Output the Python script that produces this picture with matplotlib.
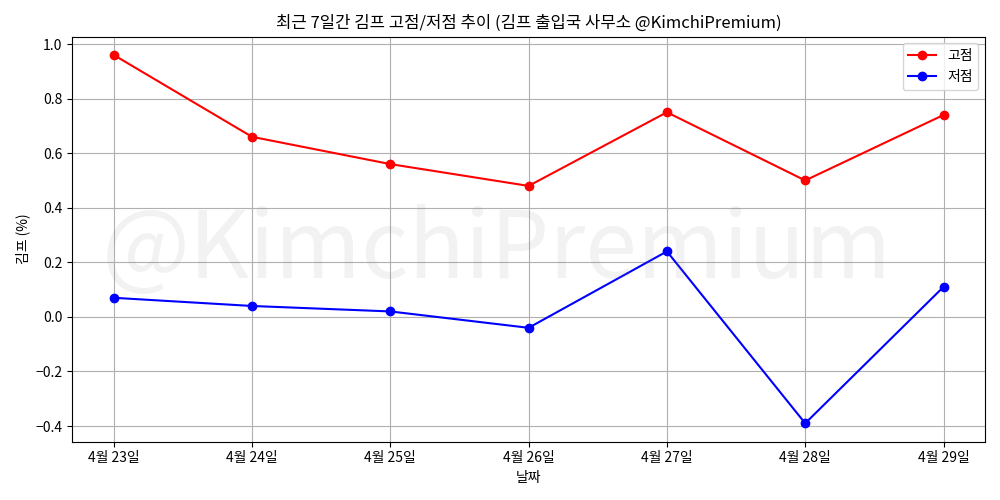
import matplotlib
matplotlib.use("Agg")
import matplotlib.pyplot as plt

plt.rcParams["font.family"] = "Noto Sans CJK KR"

dates = ["4월 23일", "4월 24일", "4월 25일", "4월 26일", "4월 27일", "4월 28일", "4월 29일"]
high = [0.96, 0.66, 0.56, 0.48, 0.75, 0.50, 0.74]
low = [0.07, 0.04, 0.02, -0.04, 0.24, -0.39, 0.11]

fig, ax = plt.subplots(figsize=(10, 5), dpi=100)
ax.plot(dates, high, color="red", marker="o", label="고점")
ax.plot(dates, low, color="blue", marker="o", label="저점")
ax.set_title("최근 7일간 김프 고점/저점 추이 (김프 출입국 사무소 @KimchiPremium)")
ax.set_xlabel("날짜")
ax.set_ylabel("김프 (%)")
ax.grid(True)
ax.legend(loc="upper right")
ax.text(0.465, 0.47, "@KimchiPremium", transform=ax.transAxes, fontsize=67,
        color="gray", alpha=0.1, ha="center", va="center")
fig.tight_layout()
fig.savefig("out.png")
